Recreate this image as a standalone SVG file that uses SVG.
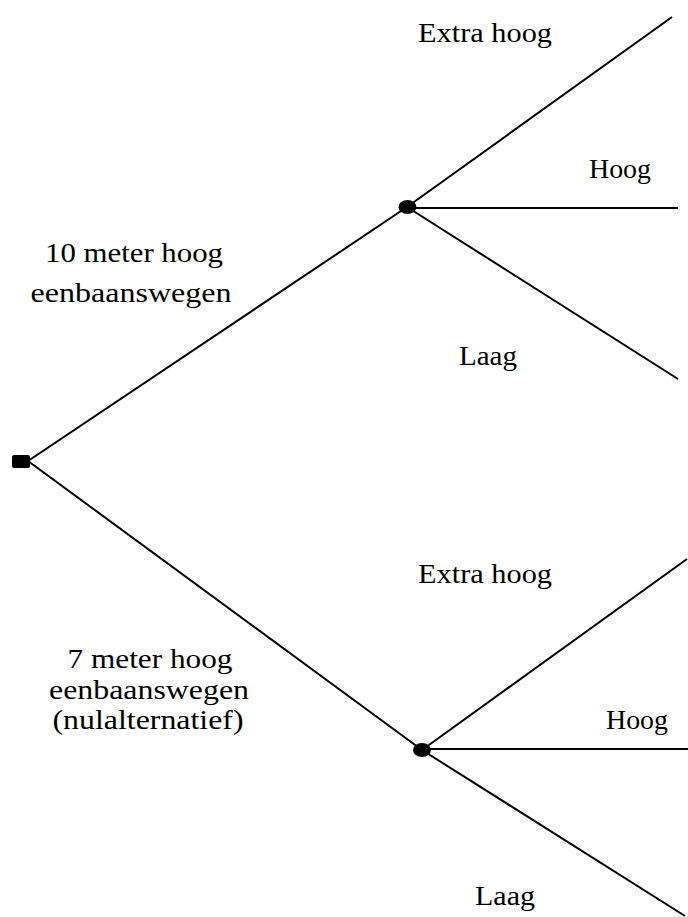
<svg xmlns="http://www.w3.org/2000/svg" width="688" height="917" viewBox="0 0 688 917">
<style>
.e{stroke:#000;stroke-width:2;fill:none}
.t{font-family:"Liberation Serif","DejaVu Serif",serif;font-size:27px;fill:#000;text-anchor:middle}
.n{fill:#000}
</style>
<rect width="688" height="917" fill="#fff"/>
<g id="connectors">
<line class="e" x1="28" y1="461" x2="407" y2="207"/>
<line class="e" x1="28" y1="461" x2="422" y2="750"/>
<line class="e" x1="407" y1="207" x2="672" y2="17"/>
<line class="e" x1="407" y1="208" x2="678" y2="208"/>
<line class="e" x1="407" y1="207" x2="678" y2="379"/>
<line class="e" x1="422" y1="750" x2="687" y2="559"/>
<line class="e" x1="422" y1="749" x2="688" y2="749"/>
<line class="e" x1="422" y1="750" x2="685" y2="916"/>
</g>
<g id="root"><rect class="n" x="12" y="455" width="18" height="13" rx="2"/></g>
<g id="chance1"><ellipse class="n" cx="407.5" cy="207" rx="9" ry="7"/></g>
<g id="chance2"><ellipse class="n" cx="422" cy="750" rx="9" ry="7"/></g>
<g id="label-10m">
<text class="t" x="134" y="262" textLength="178" lengthAdjust="spacingAndGlyphs">10 meter hoog</text>
<text class="t" x="131" y="302" textLength="201" lengthAdjust="spacingAndGlyphs">eenbaanswegen</text>
</g>
<g id="label-7m">
<text class="t" x="150" y="668" textLength="165" lengthAdjust="spacingAndGlyphs">7 meter hoog</text>
<text class="t" x="149" y="699" textLength="200" lengthAdjust="spacingAndGlyphs">eenbaanswegen</text>
<text class="t" x="148" y="729" textLength="191" lengthAdjust="spacingAndGlyphs">(nulalternatief)</text>
</g>
<g id="outcomes1">
<text class="t" x="485" y="42" textLength="134" lengthAdjust="spacingAndGlyphs">Extra hoog</text>
<text class="t" x="620" y="178" textLength="62" lengthAdjust="spacingAndGlyphs">Hoog</text>
<text class="t" x="488" y="365" textLength="58" lengthAdjust="spacingAndGlyphs">Laag</text>
</g>
<g id="outcomes2">
<text class="t" x="485" y="583" textLength="134" lengthAdjust="spacingAndGlyphs">Extra hoog</text>
<text class="t" x="637" y="729" textLength="62" lengthAdjust="spacingAndGlyphs">Hoog</text>
<text class="t" x="505" y="905" textLength="60" lengthAdjust="spacingAndGlyphs">Laag</text>
</g>
</svg>
